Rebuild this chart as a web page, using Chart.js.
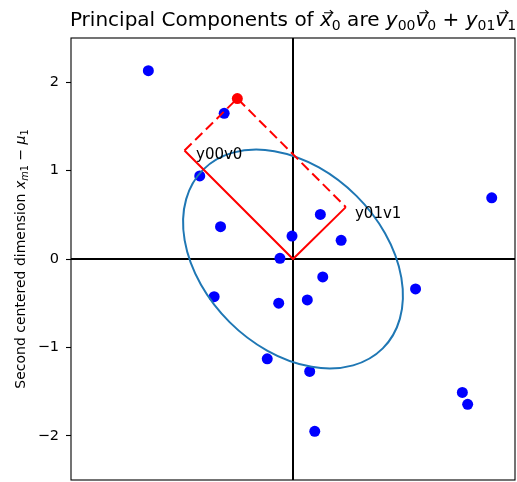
<!DOCTYPE html>
<html>
<head>
<meta charset="utf-8">
<script src="https://cdn.jsdelivr.net/npm/chart.js@4.4.1/dist/chart.umd.min.js"></script>
<style>
html,body{margin:0;padding:0;background:#fff;}
canvas{display:block;}
</style>
</head>
<body>
<canvas id="c" width="517" height="482"></canvas>
<script>
// ---- data ----
const blueX = [-1.629, -0.775, -1.050, -0.816, -0.147, -0.011, 0.308, 0.542, 2.238, -0.888, -0.161, 0.161, 0.335, 1.380, -0.290, 0.188, 1.907, 1.967, 0.245];
const blueY = [2.130, 1.648, 0.940, 0.365, 0.008, 0.260, 0.504, 0.211, 0.692, -0.426, -0.500, -0.463, -0.203, -0.339, -1.129, -1.272, -1.509, -1.644, -1.949];
const origin = [0, 0];
const x0 = [-0.627, 1.815];
const y00v0 = [-1.222, 1.228];
const y01v1 = [0.595, 0.587];
const textLabels = ['y00v0', 'y01v1'];
const textX = [-1.092, 0.698];
const textY = [1.131, 0.469];
const ellipseCenter = [0, 0];
const ellipseRadii = [1.43, 1.01];
const ellipseAngleDeg = 135;
const xRange = [-2.5, 2.5];
const yRange = [-2.5, 2.5];
const yTicks = [-2, -1, 0, 1, 2];

const FAM = 'DejaVu Sans';

function drawVec(ctx, x1, x2, y) {
  ctx.save();
  ctx.strokeStyle = '#000';
  ctx.lineWidth = 1.1;
  ctx.beginPath();
  ctx.moveTo(x1, y); ctx.lineTo(x2, y);
  ctx.moveTo(x2 - 3, y - 2.6); ctx.lineTo(x2, y); ctx.lineTo(x2 - 3, y + 2.6);
  ctx.stroke();
  ctx.restore();
}
function richWidth(ctx, segs, S) {
  let w = 0;
  for (const s of segs) {
    ctx.font = (s.it ? 'italic ' : '') + (S * (s.sc || 1)) + 'px "' + FAM + '"';
    w += ctx.measureText(s.t).width;
  }
  return w;
}
function drawRich(ctx, segs, x, y, S) {
  let cx = x;
  ctx.fillStyle = '#000';
  ctx.textBaseline = 'alphabetic';
  ctx.textAlign = 'left';
  for (const s of segs) {
    const size = S * (s.sc || 1);
    ctx.font = (s.it ? 'italic ' : '') + size + 'px "' + FAM + '"';
    ctx.fillText(s.t, cx, y + (s.dy || 0) * S);
    const w = ctx.measureText(s.t).width;
    if (s.vec) drawVec(ctx, cx + 0.2 * size, cx + w + 0.05 * size, y - 0.66 * S);
    cx += w;
  }
}
const titleSegs = [
  {t: 'Principal Components of '},
  {t: 'x', it: true, vec: true}, {t: '0', sc: 0.7, dy: 0.2},
  {t: ' are '},
  {t: 'y', it: true}, {t: '00', sc: 0.7, dy: 0.2},
  {t: 'v', it: true, vec: true}, {t: '0', sc: 0.7, dy: 0.2},
  {t: ' + '},
  {t: 'y', it: true}, {t: '01', sc: 0.7, dy: 0.2},
  {t: 'v', it: true, vec: true}, {t: '1', sc: 0.7, dy: 0.2}
];
const ylabelSegs = [
  {t: 'Second centered dimension '},
  {t: 'x', it: true}, {t: 'm', it: true, sc: 0.7, dy: 0.2}, {t: '1', sc: 0.7, dy: 0.2},
  {t: ' \u2212 '},
  {t: '\u03bc', it: true}, {t: '1', sc: 0.7, dy: 0.2}
];

const decor = {
  id: 'decor',
  beforeDatasetsDraw(chart) {
    const {ctx, chartArea: a, scales: {x, y}} = chart;
    ctx.save();
    ctx.beginPath(); ctx.rect(a.left, a.top, a.right - a.left, a.bottom - a.top); ctx.clip();
    ctx.strokeStyle = '#000';
    ctx.lineWidth = 2;
    ctx.beginPath();
    const px0 = x.getPixelForValue(0), py0 = y.getPixelForValue(0);
    ctx.moveTo(a.left, py0); ctx.lineTo(a.right, py0);
    ctx.moveTo(px0, a.top); ctx.lineTo(px0, a.bottom);
    ctx.stroke();
    ctx.restore();
  },
  afterDatasetDraw(chart, args) {
    if (args.index !== 3) return;
    const {ctx, chartArea: a, scales: {x, y}} = chart;
    const sx = x.getPixelForValue(1) - x.getPixelForValue(0);
    const sy = y.getPixelForValue(0) - y.getPixelForValue(1);
    ctx.save();
    ctx.beginPath(); ctx.rect(a.left, a.top, a.right - a.left, a.bottom - a.top); ctx.clip();
    ctx.save();
    ctx.translate(x.getPixelForValue(ellipseCenter[0]), y.getPixelForValue(ellipseCenter[1]));
    ctx.scale(sx, -sy);
    ctx.rotate(ellipseAngleDeg * Math.PI / 180);
    ctx.beginPath();
    ctx.ellipse(0, 0, ellipseRadii[0], ellipseRadii[1], 0, 0, Math.PI * 2);
    ctx.restore();
    ctx.strokeStyle = '#1f77b4';
    ctx.lineWidth = 2;
    ctx.stroke();
    ctx.restore();
  },
  afterDraw(chart) {
    const {ctx, chartArea: a, scales: {x, y}} = chart;
    ctx.save();
    // frame
    ctx.strokeStyle = '#000';
    ctx.lineWidth = 1.1;
    ctx.strokeRect(a.left, a.top, a.right - a.left, a.bottom - a.top);
    // annotations
    ctx.fillStyle = '#000';
    ctx.font = '15px "' + FAM + '"';
    ctx.textAlign = 'left';
    ctx.textBaseline = 'alphabetic';
    textLabels.forEach((t, i) => ctx.fillText(t, x.getPixelForValue(textX[i]), y.getPixelForValue(textY[i])));
    // title
    const TS = 20;
    const tw = richWidth(ctx, titleSegs, TS);
    drawRich(ctx, titleSegs, (a.left + a.right) / 2 - tw / 2, 26, TS);
    // y label
    const LS = 14;
    const lw = richWidth(ctx, ylabelSegs, LS);
    ctx.translate(25, (a.top + a.bottom) / 2);
    ctx.rotate(-Math.PI / 2);
    drawRich(ctx, ylabelSegs, -lw / 2, 0, LS);
    ctx.restore();
  }
};

const pt = (p) => ({x: p[0], y: p[1]});
new Chart(document.getElementById('c'), {
  type: 'scatter',
  data: {
    datasets: [
      { // x0 point
        data: [pt(x0)], backgroundColor: '#ff0000', borderColor: '#ff0000', borderWidth: 0,
        pointRadius: 5.5, order: 0
      },
      { // solid components
        type: 'line', data: [pt(y00v0), pt(origin), pt(y01v1)], borderColor: '#ff0000',
        borderWidth: 2, pointRadius: 0, fill: false, tension: 0, order: 1
      },
      { // dashed completion
        type: 'line', data: [pt(y00v0), pt(x0), pt(y01v1)], borderColor: '#ff0000',
        borderWidth: 2, borderDash: [10, 5], pointRadius: 0, fill: false, tension: 0, order: 2
      },
      { // blue points
        data: blueX.map((v, i) => ({x: v, y: blueY[i]})), backgroundColor: '#0000ff',
        borderColor: '#0000ff', borderWidth: 0, pointRadius: 5.5, order: 3
      }
    ]
  },
  options: {
    responsive: false,
    animation: false,
    devicePixelRatio: 1,
    layout: {autoPadding: false, padding: {top: 38, bottom: 2, right: 2, left: 0}},
    plugins: {legend: {display: false}, tooltip: {enabled: false}},
    scales: {
      x: {type: 'linear', min: xRange[0], max: xRange[1], display: false},
      y: {
        type: 'linear', min: yRange[0], max: yRange[1],
        afterBuildTicks: (s) => { s.ticks = yTicks.map(v => ({value: v})); },
        afterFit: (s) => { s.width = 71; s.paddingTop = 0; s.paddingBottom = 0; },
        grid: {drawOnChartArea: false, drawTicks: true, tickLength: 5, tickColor: '#000', tickWidth: 1.1},
        border: {display: false},
        ticks: {
          font: {family: FAM, size: 14.5}, color: '#000', padding: 7,
          callback: (v) => String(v).replace('-', '\u2212')
        }
      }
    }
  },
  plugins: [decor]
});
</script>
</body>
</html>
